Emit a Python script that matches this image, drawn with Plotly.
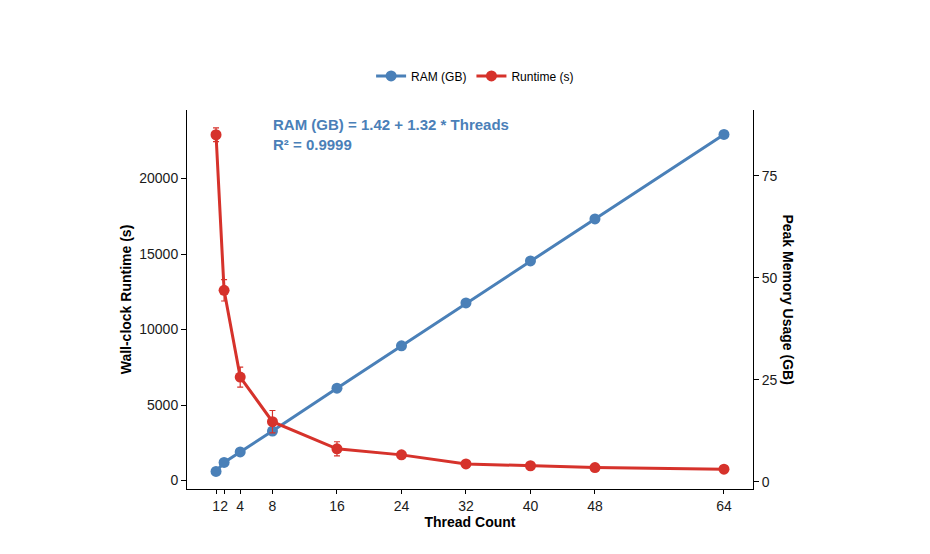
import plotly.graph_objects as go

# values
threads = [1, 2, 4, 8, 16, 24, 32, 40, 48, 64]
ram_gb = [2.5, 4.7, 7.3, 12.4, 22.9, 33.3, 43.8, 54.1, 64.4, 85.1]
runtime_s = [22900, 12600, 6850, 3900, 2100, 1700, 1100, 980, 860, 750]
runtime_err = [460, 710, 660, 740, 470, 200, 120, 100, 80, 70]
x_ticks = [1, 2, 4, 8, 16, 24, 32, 40, 48, 64]
left_ticks = [0, 5000, 10000, 15000, 20000]
right_ticks = [0, 25, 50, 75]

BLUE = "#4A80B8"
RED = "#D6322B"
FONT = "Liberation Sans, Arial, sans-serif"

fig = go.Figure()

# RAM goes on the primary axis (drawn on the right) so that runtime sits on top
fig.add_trace(go.Scatter(
    x=threads, y=ram_gb, name="RAM (GB)", mode="lines+markers",
    line=dict(color=BLUE, width=3),
    marker=dict(color=BLUE, size=11),
    yaxis="y",
))

fig.add_trace(go.Scatter(
    x=threads, y=runtime_s, name="Runtime (s)", mode="lines+markers",
    line=dict(color=RED, width=3),
    marker=dict(color=RED, size=11),
    error_y=dict(type="data", array=runtime_err, color=RED, thickness=1.2, width=3),
    yaxis="y2",
))

fig.add_annotation(
    x=0.148, y=0.963, xref="paper", yref="paper", xanchor="left", yanchor="middle",
    text="<b>RAM (GB) = 1.42 + 1.32 * Threads</b>", showarrow=False,
    font=dict(family=FONT, size=15, color=BLUE),
)
fig.add_annotation(
    x=0.148, y=0.9085, xref="paper", yref="paper", xanchor="left", yanchor="middle",
    text="<b>R² = 0.9999</b>", showarrow=False,
    font=dict(family=FONT, size=15, color=BLUE),
)
# right-hand title reads top to bottom, like ggplot's secondary axis
fig.add_annotation(
    x=1.062, y=0.5, xref="paper", yref="paper", xanchor="center", yanchor="middle",
    text="<b>Peak Memory Usage (GB)</b>", showarrow=False, textangle=90,
    font=dict(family=FONT, size=14, color="black"),
)

axis_common = dict(
    showgrid=False, zeroline=False, showline=True, linecolor="black", linewidth=1,
    ticks="outside", ticklen=5, tickcolor="black", tickwidth=1,
    tickfont=dict(family=FONT, size=14, color="#1a1a1a"),
)

# the page adds ~8px of body margin, so the margins are trimmed to match
fig.update_layout(
    width=930, height=554,
    paper_bgcolor="white", plot_bgcolor="white",
    margin=dict(l=179, r=185, t=102, b=73),
    font=dict(family=FONT, color="black"),
    showlegend=True,
    legend=dict(
        orientation="h", x=0.509, xanchor="center", y=1.09, yanchor="middle",
        font=dict(family=FONT, size=12, color="black"), itemwidth=30,
    ),
    xaxis=dict(
        axis_common, range=[-2.6, 67.6], tickvals=x_ticks, tickangle=0, ticklen=4,
        title=dict(text="<b>Thread Count</b>", font=dict(family=FONT, size=14), standoff=3),
    ),
    yaxis=dict(
        axis_common, side="right", range=[-1.8, 91.1], tickvals=right_ticks,
    ),
    yaxis2=dict(
        axis_common, side="left", overlaying="y", range=[-560, 24540], tickvals=left_ticks,
        tickformat="d",
        title=dict(text="<b>Wall-clock Runtime (s)</b>", font=dict(family=FONT, size=14), standoff=4),
    ),
)

fig.write_html("out.html")
